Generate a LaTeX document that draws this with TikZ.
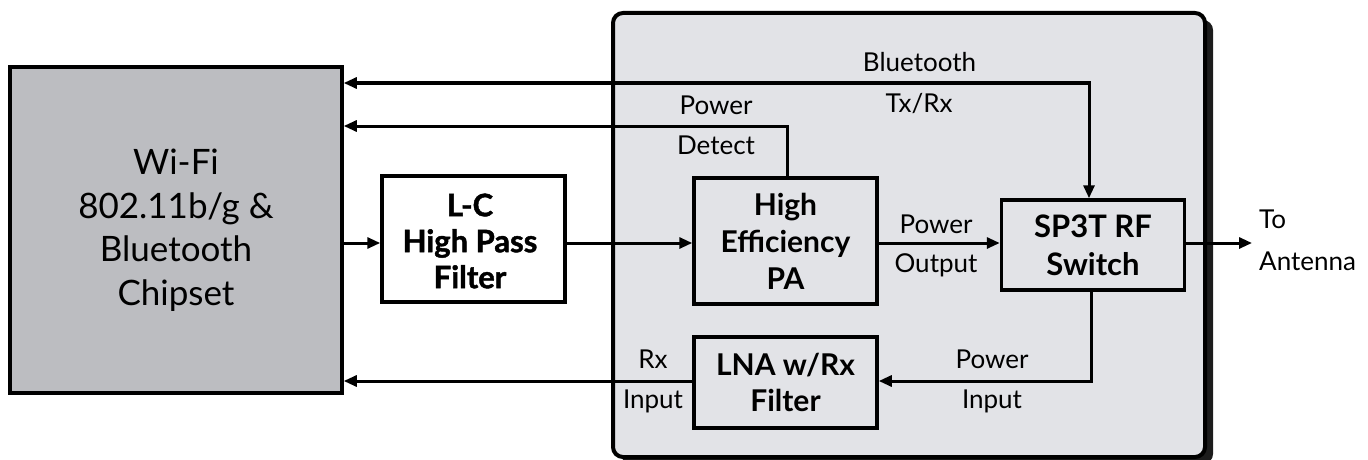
\documentclass[tikz,border=0pt]{standalone}
\usepackage{fontspec}
\setmainfont{Lato}
% heavier face for the filter block
\newfontfamily\heavyfont{Lato}[BoldFeatures={FakeBold=1.4}]
\usetikzlibrary{arrows.meta,shadows}
\definecolor{panelc}{HTML}{E2E3E7}
\definecolor{chipc}{HTML}{BCBDC1}
\definecolor{shadowc}{HTML}{1C1C1C}
\begin{document}
\begin{tikzpicture}[x=1pt,y=-1pt,
  box/.style={draw=black, line width=3.5pt, align=center, inner sep=0pt},
  boldtext/.style={font=\bfseries\fontsize{30}{37}\selectfont},
  lbl/.style={anchor=base, inner sep=0pt, font=\fontsize{26}{30}\selectfont},
  conn/.style={line width=3pt, -{Triangle[length=13pt,width=11pt]}},
  module/.style={draw=black, line width=4pt, fill=panelc, rounded corners=10pt,
    drop shadow={shadow xshift=8pt, shadow yshift=-7pt, fill=shadowc, opacity=1}}]
\useasboundingbox (0,0) rectangle (1368,460);

% module outline with its drop shadow
\node[module, minimum width=592pt, minimum height=444pt] (mod) at (909,235) {};

% blocks
\node[box, fill=chipc, minimum width=332pt, minimum height=326pt,
      font=\fontsize{35}{43.5}\selectfont] (chip) at (176,230)
      {Wi-Fi\\802.11b/g \&\\Bluetooth\\Chipset};
\node[box, fill=white, minimum width=183pt, minimum height=126pt] (filt) at (473.5,239) {};
\node[align=center, inner sep=0pt, font=\heavyfont\bfseries\fontsize{31}{36}\selectfont]
      (filt-t) at (470,241) {L-C\\High Pass\\Filter};
\node[box, boldtext, minimum width=183pt, minimum height=126pt] (pa) at (785.5,241)
      {High\\Efficiency\\PA};
\node[box, boldtext, font=\bfseries\fontsize{31}{38}\selectfont,
      minimum width=183pt, minimum height=90pt] (sw) at (1093,245)
      {SP3T RF\\Switch};
\node[box, boldtext, font=\bfseries\fontsize{30}{36}\selectfont,
      minimum width=183pt, minimum height=91pt] (lna) at (785.5,382.5)
      {LNA w/Rx\\Filter};

% routing points
\coordinate (rf) at (0,243);
\coordinate (bt) at (1089,83);
\coordinate (pd) at (787,126);
\coordinate (rx) at (1091,381);
\coordinate (ant) at (1252,243);

% connectors
\draw[conn, {Triangle[length=13pt,width=11pt]}-{Triangle[length=13pt,width=11pt]}]
  (chip.east |- bt) -| (sw.north -| bt);
\draw[conn] (pa.north -| pd) |- (chip.east |- pd);
\draw[conn] (chip.east |- rf) -- (filt.west |- rf);
\draw[conn] (filt.east |- rf) -- (pa.west |- rf);
\draw[conn] (pa.east |- rf) -- (sw.west |- rf);
\draw[conn] (sw.east |- rf) -- (ant);
\draw[conn] (sw.south -| rx) |- (lna.east |- rx);
\draw[conn] (lna.west |- rx) -- (chip.east |- rx);

% signal labels
\node[lbl] (l-bt1) at (919.5,72) {Bluetooth};
\node[lbl] (l-bt2) at (919,112) {Tx/Rx};
\node[lbl] (l-pd1) at (716,114) {Power};
\node[lbl] (l-pd2) at (716,154) {Detect};
\node[lbl] (l-po1) at (936,233) {Power};
\node[lbl] (l-po2) at (936,272) {Output};
\node[lbl, anchor=base west] (l-an1) at (1259,228) {To};
\node[lbl, anchor=base west] (l-an2) at (1259,270) {Antenna};
\node[lbl] (l-rx1) at (653,368) {Rx};
\node[lbl] (l-rx2) at (653,408) {Input};
\node[lbl] (l-pi1) at (992,368) {Power};
\node[lbl] (l-pi2) at (992,408) {Input};
\end{tikzpicture}
\end{document}
